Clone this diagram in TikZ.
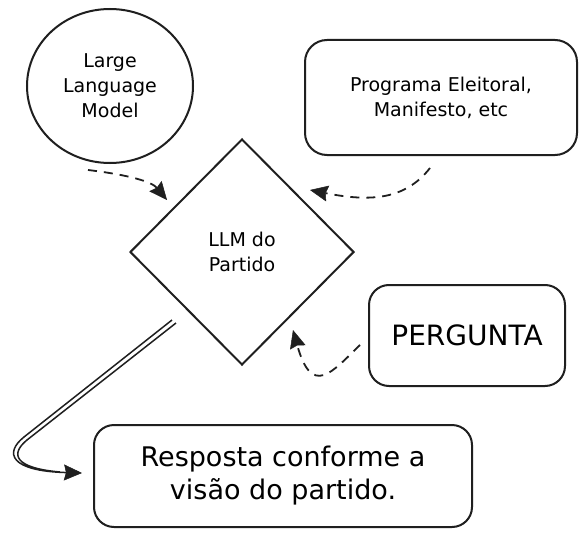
\documentclass[tikz,border=0pt]{standalone}
\usepackage{fontspec}
\setmainfont{DejaVu Sans}
\usetikzlibrary{shapes.geometric,arrows.meta}
\tikzset{
  sk/.style={draw=black!88, line width=2pt},
  box/.style={sk, rounded corners=20pt, align=center, inner sep=0pt},
  small/.style={font=\fontsize{19}{25}\selectfont},
  big/.style={font=\fontsize{27}{33}\selectfont},
  tip/.style={-{Stealth[length=18pt,width=16pt,inset=2pt,line width=0.5pt]}},
  dasharrow/.style={draw=black!88, line width=1.8pt, dash pattern=on 9pt off 7pt, tip},
  solidarrow/.style={draw=black!88, line width=1.5pt, tip}
}
\begin{document}
\begin{tikzpicture}[x=1pt,y=-1pt]
\useasboundingbox[fill=white] (0,0) rectangle (581,535);

% nodes
\node[ellipse, sk, minimum width=166pt, minimum height=154pt, small, align=center, inner sep=0pt] (llm) at (110,86) {Large\\Language\\Model};
\node[box, small, minimum width=272pt, minimum height=115pt, rounded corners=22pt] (prog) at (441,97.5) {Programa Eleitoral,\\Manifesto, etc};
\node[diamond, sk, aspect=1, minimum width=224pt, minimum height=226pt, small, align=center, inner sep=0pt] (dia) at (242,252) {LLM do\\Partido};
\node[box, font=\fontsize{28}{34}\selectfont, minimum width=196pt, minimum height=101pt] (perg) at (467,335.5) {PERGUNTA};
\node[box, big, minimum width=378pt, minimum height=102pt] (resp) at (283,476) {Resposta conforme a\\visão do partido.};

% connector end points
\coordinate (s1) at (88,170);
\coordinate (e1) at (167,200);
\coordinate (s2) at (430,168);
\coordinate (e2) at (310,190);
\coordinate (s3) at (360,345);
\coordinate (e3) at (293,330);
\coordinate (s4) at (172,320);
\coordinate (s4b) at (176,323);
\coordinate (e4) at (82,473);

% connectors
\draw[dasharrow] (s1) .. controls (130,175) and (152,182) .. (e1);
\draw[dasharrow] (s2) .. controls (405,200) and (370,202) .. (e2);
\draw[dasharrow] (s3) .. controls (332,372) and (312,398) .. (e3);
\draw[solidarrow] (s4b) -- (27,440) .. controls (10,454) and (14,468) .. (60,472)
                  (s4) -- (24,437) .. controls (4,453) and (10,471) .. (e4);
\end{tikzpicture}
\end{document}
